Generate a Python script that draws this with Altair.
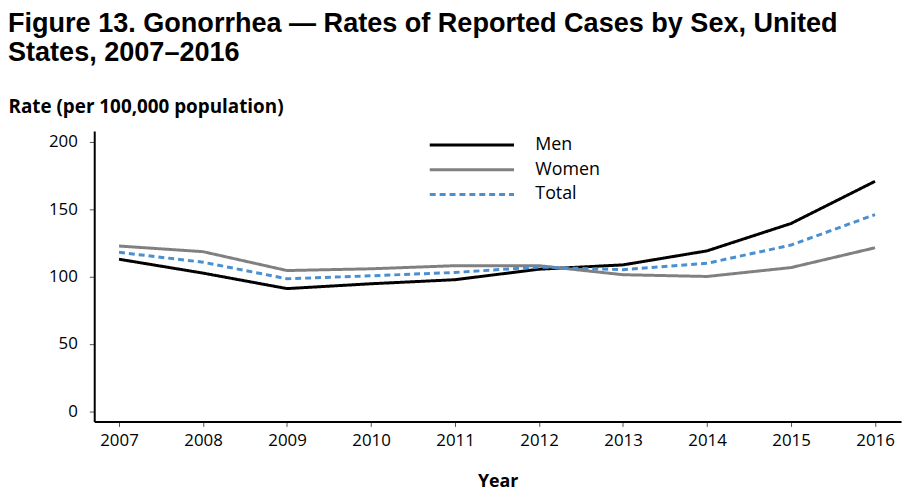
import altair as alt
import pandas as pd

years = [2007, 2008, 2009, 2010, 2011, 2012, 2013, 2014, 2015, 2016]
men = [112.8, 102.5, 91.0, 94.6, 97.6, 105.4, 108.6, 119.0, 139.3, 170.6]
women = [122.6, 118.4, 104.4, 105.7, 108.0, 108.0, 101.3, 100.0, 106.6, 121.3]
total = [117.9, 110.6, 98.3, 100.5, 103.0, 107.0, 105.0, 109.8, 123.3, 145.9]
series_names = ["Men", "Women", "Total"]
series_colors = ["#000000", "#808080", "#4a8fd0"]
series_dash = [[1, 0], [1, 0], [6, 4]]
y_ticks = [0, 50, 100, 150, 200]

rows = []
for name, vals in zip(series_names, [men, women, total]):
    for yr, v in zip(years, vals):
        rows.append({"year": yr, "rate": v, "sex": name})
df = pd.DataFrame(rows)

leg = alt.Legend(
    title=None, orient="none", legendX=365, legendY=-2,
    symbolType="M-3,0H3", symbolSize=803, symbolStrokeWidth=3,
    labelFont="Open Sans", labelFontSize=18, labelColor="#000000",
    labelOffset=48, rowPadding=0, padding=0,
)

chart = alt.Chart(df).mark_line(strokeWidth=3).encode(
    x=alt.X("year:Q",
            scale=alt.Scale(domain=[2006.705, 2016.31], nice=False, zero=False),
            axis=alt.Axis(values=years, format="d", title="Year", grid=False,
                          tickSize=5, tickColor="#555555", labelPadding=6,
                          labelFont="Open Sans", labelFontSize=17, labelColor="#000000",
                          titleFont="Open Sans", titleFontSize=18, titleFontWeight="bold",
                          titleColor="#000000", titlePadding=25,
                          domainColor="#000000", domainWidth=2)),
    y=alt.Y("rate:Q",
            scale=alt.Scale(domain=[-7.6, 207.9], nice=False, zero=False),
            axis=alt.Axis(values=y_ticks, title="Rate (per 100,000 population)", grid=False,
                          tickSize=5, tickColor="#555555", labelPadding=12,
                          labelFont="Open Sans", labelFontSize=17, labelColor="#000000",
                          titleFont="Open Sans", titleFontSize=19, titleFontWeight="bold",
                          titleColor="#000000", titleAngle=0, titleAlign="left",
                          titleBaseline="alphabetic", titleX=-87, titleY=-19,
                          domainColor="#000000", domainWidth=2)),
    color=alt.Color("sex:N", scale=alt.Scale(domain=series_names, range=series_colors),
                    sort=series_names, legend=leg),
    strokeDash=alt.StrokeDash("sex:N", scale=alt.Scale(domain=series_names, range=series_dash),
                              sort=series_names, legend=leg),
).properties(
    width=814, height=293,
    title=alt.TitleParams(
        text=["Figure 13. Gonorrhea — Rates of Reported Cases by Sex, United",
              "States, 2007–2016"],
        anchor="start", frame="group", dx=-87, dy=-27,
        font="Liberation Sans", fontSize=27.3, fontWeight="bold", color="#000000",
        lineHeight=30, baseline="top",
    ),
    autosize=alt.AutoSizeParams(type="none"),
    padding={"left": 87, "top": 122, "right": 7, "bottom": 70},
).configure_view(stroke=None)

chart.save("out.html", embed_options={"renderer": "svg", "actions": False})
